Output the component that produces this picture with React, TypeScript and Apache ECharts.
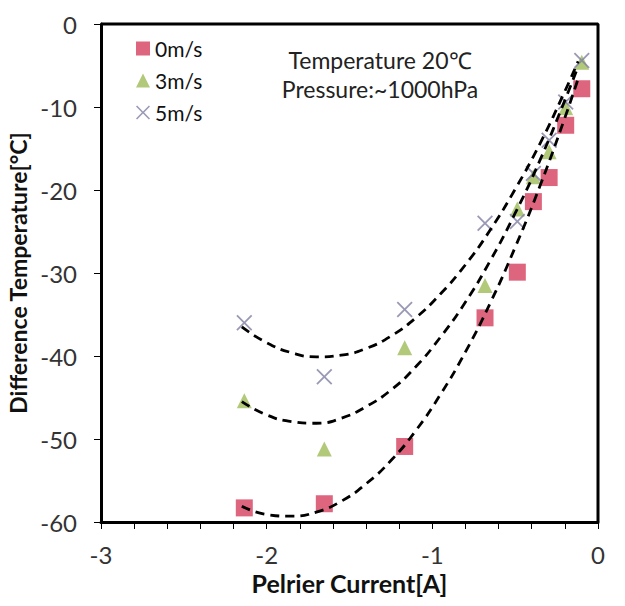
import React, { useEffect, useRef } from "react";
import * as echarts from "echarts";

// Measured points: x = Peltier current [A], y = difference temperature [°C]
const xCurrent = [-2.135, -1.652, -1.167, -0.682, -0.487, -0.39, -0.295, -0.195, -0.098];
const y0ms = [-58.3, -57.8, -50.9, -35.4, -29.9, -21.4, -18.5, -12.2, -7.8];
const y3ms = [-45.4, -51.2, -39.0, -31.5, -22.3, -18.4, -15.4, -10.1, -4.6];
const y5ms = [-36.0, -42.5, -34.4, -24.0, -23.8, -18.0, -14.0, -9.4, -4.4];

// Dashed trend curves
const trendX = [-2.15, -2.0, -1.85, -1.7, -1.55, -1.4, -1.25, -1.1, -0.95, -0.8, -0.65, -0.5, -0.35, -0.2, -0.12];
const trend0 = [-58.1, -59.1, -59.3, -58.8, -57.5, -55.4, -52.6, -49.0, -44.6, -39.5, -33.6, -26.9, -19.5, -11.3, -6.6];
const trend3 = [-45.5, -47.1, -47.9, -48.1, -47.5, -46.1, -44.1, -41.3, -37.7, -33.5, -28.5, -22.8, -16.4, -9.2, -5.1];
const trend5 = [-36.5, -38.4, -39.6, -40.1, -39.9, -39.1, -37.6, -35.4, -32.5, -29.0, -24.8, -19.9, -14.4, -8.1, -4.5];

const xRange = [-3, 0];
const yRange = [-60, 0];

const seriesNames = ["0m/s", "3m/s", "5m/s"];
const annotation = ["Temperature 20\u2103", "Pressure:~1000hPa"];

const FONT = "Lato, 'Open Sans', sans-serif";
const CROSS =
  "path://M0,0.8L0.8,0L5,4.2L9.2,0L10,0.8L5.8,5L10,9.2L9.2,10L5,5.8L0.8,10L0,9.2L4.2,5Z";

const zip = (xs: number[], ys: number[]) => xs.map((x, i) => [x, ys[i]]);

export default function App() {
  const ref = useRef<HTMLDivElement>(null);
  useEffect(() => {
    if (!ref.current) return;
    const chart = echarts.init(ref.current, null, { renderer: "svg" });
    const dashed = {
      type: "line",
      smooth: true,
      symbol: "none",
      silent: true,
      z: 3,
      lineStyle: { color: "#000", width: 2.8, type: [9, 6] },
    };
    const tick = { show: true, inside: false, length: 7, lineStyle: { color: "#000", width: 1 } };
    const frameLine = { show: true, onZero: false, lineStyle: { color: "#000", width: 3 } };
    chart.setOption({
      animation: false,
      backgroundColor: "#fff",
      textStyle: { fontFamily: FONT },
      grid: { left: 93, right: 19, top: 16, bottom: 76, outerBoundsMode: "none", containLabel: false },
      legend: {
        data: seriesNames,
        orient: "vertical",
        left: 123,
        top: 25,
        itemGap: 11,
        itemWidth: 14,
        itemHeight: 14,
        itemStyle: { borderWidth: 0 },
        textStyle: { fontSize: 21, color: "#111", fontFamily: FONT },
      },
      xAxis: {
        type: "value",
        min: xRange[0],
        max: xRange[1],
        interval: 1,
        name: "Pelrier Current[A]",
        nameLocation: "middle",
        nameGap: 40,
        nameTextStyle: { fontSize: 25, fontWeight: "bold", color: "#111", fontFamily: FONT },
        axisLine: frameLine,
        axisTick: tick,
        minorTick: { show: true, splitNumber: 5, length: 7, lineStyle: { color: "#000", width: 1 } },
        axisLabel: { fontSize: 24, color: "#333", margin: 20, fontFamily: FONT },
        splitLine: { show: false },
      },
      yAxis: {
        type: "value",
        min: yRange[0],
        max: yRange[1],
        interval: 10,
        name: "Difference Temperature[\u00b0C]",
        nameLocation: "middle",
        nameGap: 68,
        nameRotate: 90,
        nameTextStyle: { fontSize: 23, fontWeight: "bold", color: "#111", fontFamily: FONT },
        axisLine: frameLine,
        axisTick: tick,
        axisLabel: { fontSize: 24, color: "#333", margin: 24, fontFamily: FONT },
        splitLine: { show: false },
      },
      graphic: [
        {
          type: "text",
          x: 372,
          y: 52,
          style: {
            text: annotation[0],
            font: `23px ${FONT}`,
            fill: "#222",
            textAlign: "center",
            textVerticalAlign: "middle",
          },
        },
        {
          type: "text",
          x: 372,
          y: 81,
          style: {
            text: annotation[1],
            font: `23px ${FONT}`,
            fill: "#222",
            textAlign: "center",
            textVerticalAlign: "middle",
          },
        },
      ],
      series: [
        {
          name: seriesNames[0],
          type: "scatter",
          symbol: "rect",
          symbolSize: 17,
          z: 2,
          itemStyle: { color: "#d63f5e" },
          data: zip(xCurrent, y0ms),
        },
        {
          name: seriesNames[1],
          type: "scatter",
          symbol: "triangle",
          symbolSize: 15,
          z: 2,
          itemStyle: { color: "#9dbb57" },
          data: zip(xCurrent, y3ms),
        },
        {
          name: seriesNames[2],
          type: "scatter",
          symbol: CROSS,
          symbolSize: 16,
          z: 2,
          itemStyle: { color: "#7f7fa3" },
          data: zip(xCurrent, y5ms),
        },
        { ...dashed, name: "trend0", data: zip(trendX, trend0) },
        { ...dashed, name: "trend3", data: zip(trendX, trend3) },
        { ...dashed, name: "trend5", data: zip(trendX, trend5) },
        {
          // top and right edges of the plot frame, along the axis ranges
          name: "frame",
          type: "line",
          symbol: "none",
          silent: true,
          clip: false,
          z: 10,
          lineStyle: { color: "#000", width: 3, type: "solid" },
          data: [
            [xRange[0], yRange[1]],
            [xRange[1], yRange[1]],
            [xRange[1], yRange[0]],
          ],
        },
      ],
    });
    return () => chart.dispose();
  }, []);
  return <div ref={ref} style={{ width: 609, height: 590 }} />;
}
